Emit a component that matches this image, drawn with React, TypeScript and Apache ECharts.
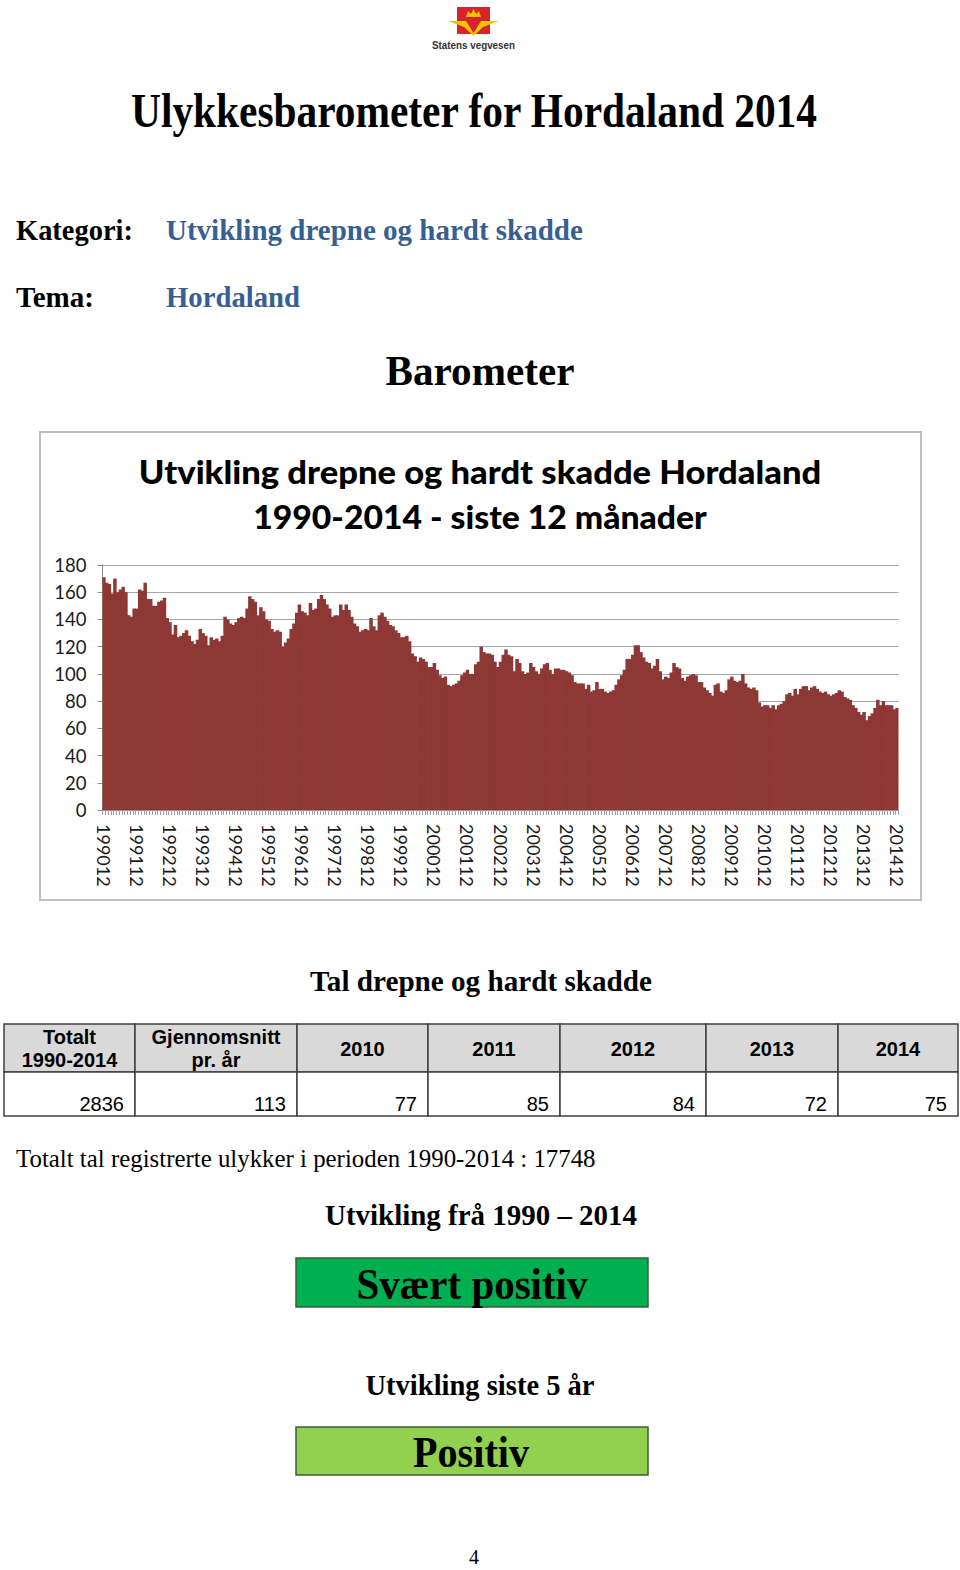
import React, { useEffect, useRef } from "react";
import * as echarts from "echarts";

// Rolling 12-month totals, killed and seriously injured, Hordaland (one value per month, 199012 .. 201412)
const rolling1990to1994 = [171,167,166,159,170,160,162,164,160,143,142,148,148,162,161,167,155,155,150,150,153,154,156,141,138,129,136,127,128,130,132,128,124,122,125,133,130,128,121,127,125,126,124,128,142,140,137,136];
const rolling1994to1998 = [138,141,142,141,148,157,155,153,143,149,146,140,139,133,131,132,131,120,123,126,133,137,145,151,146,145,143,152,147,148,155,158,155,151,148,142,143,143,151,147,151,147,142,137,135,131,132,133];
const rolling1998to2002 = [132,141,135,132,143,145,142,139,136,135,132,130,127,127,128,124,115,113,109,112,111,109,105,105,108,103,99,97,98,92,91,92,93,95,99,101,103,100,100,107,109,120,116,115,115,114,109,105];
const rolling2002to2006 = [109,114,118,114,113,102,111,108,102,100,101,108,105,102,100,104,107,108,103,100,104,104,103,103,102,101,99,94,93,93,93,89,92,87,88,94,89,89,87,86,87,88,92,96,99,103,111,111];
const rolling2006to2010 = [114,121,121,116,112,109,108,104,106,111,102,96,98,97,101,108,105,104,97,95,98,99,100,99,94,94,90,88,86,84,92,93,87,86,88,96,98,95,94,95,100,93,90,89,90,88,79,76];
const rolling2010to2014 = [77,77,75,77,74,77,78,80,85,86,84,89,85,89,91,91,88,90,91,89,87,86,87,85,84,85,86,88,87,83,82,81,77,75,72,70,72,66,69,71,75,81,77,80,77,77,77,74,75];

const firstYear = 1990;
const firstMonth = 12;

const yAxisMin = 0;
const yAxisMax = 180;
const yAxisStep = 20;

// Table "Tal drepne og hardt skadde"
const tableHeaderLine1 = ["Totalt", "Gjennomsnitt", "2010", "2011", "2012", "2013", "2014"];
const tableHeaderLine2 = ["1990-2014", "pr. år", "", "", "", "", ""];
const tableValues = ["2836", "113", "77", "85", "84", "72", "75"];

const totalAccidentsText = "Totalt tal registrerte ulykker i perioden 1990-2014 : 17748";
const verdictLongTerm = "Svært positiv";
const verdictShortTerm = "Positiv";

const values = [
  ...rolling1990to1994,
  ...rolling1994to1998,
  ...rolling1998to2002,
  ...rolling2002to2006,
  ...rolling2006to2010,
  ...rolling2010to2014,
];

const categories: string[] = values.map((_, i) => {
  const m0 = firstMonth - 1 + i;
  const y = firstYear + Math.floor(m0 / 12);
  const m = (m0 % 12) + 1;
  return `${y}${m < 10 ? "0" + m : m}`;
});

const SERIF = "Liberation Serif";
const SANS = "Liberation Sans";
const CHARTFONT = "Lato";
const BAR_COLOR = "#8e3836";

let measureCtx: CanvasRenderingContext2D | null = null;
function measure(text: string, size: number, family: string, weight: string) {
  if (!measureCtx) measureCtx = document.createElement("canvas").getContext("2d");
  if (!measureCtx) return 0;
  measureCtx.font = `${weight} ${size}px "${family}"`;
  return measureCtx.measureText(text).width;
}

function txt(
  text: string,
  x: number,
  y: number,
  size: number,
  family: string,
  weight: string,
  color: string,
  align: "left" | "center" | "right",
  targetWidth?: number
) {
  let sx = 1;
  if (targetWidth) {
    const w = measure(text, size, family, weight);
    if (w > 0) sx = targetWidth / w;
  }
  return {
    type: "text",
    x,
    y,
    scaleX: sx,
    z: 10,
    style: {
      text,
      fontSize: size,
      fontFamily: family,
      fontWeight: weight,
      fill: color,
      textAlign: align,
      align,
      textVerticalAlign: "middle",
      verticalAlign: "middle",
    },
  };
}

function buildGraphic() {
  const g: any[] = [];
  // Logo
  g.push({ type: "rect", shape: { x: 457, y: 7, width: 33, height: 27 }, style: { fill: "#d8232a" } });
  g.push({ type: "polygon", shape: { points: [[466, 17], [468, 11], [471, 14], [473.5, 9], [476, 14], [479, 11], [481, 17]] }, style: { fill: "#f5c400" } });
  g.push({ type: "polygon", shape: { points: [[448, 21], [466, 21], [473.5, 33], [481, 21], [499, 21], [483, 27], [473.5, 36], [464, 27]] }, style: { fill: "#f5c400" } });
  g.push({ type: "polygon", shape: { points: [[468, 22], [479, 22], [473.5, 30]] }, style: { fill: "#d8232a" } });
  g.push(txt("Statens vegvesen", 473.5, 45, 10, SANS, "bold", "#333", "center", 83));

  g.push(txt("Ulykkesbarometer for Hordaland 2014", 474, 111, 48, SERIF, "bold", "#000", "center", 688));
  g.push(txt("Kategori:", 16, 230, 30, SERIF, "bold", "#000", "left", 117));
  g.push(txt("Utvikling drepne og hardt skadde", 166, 230, 30, SERIF, "bold", "#376092", "left", 417));
  g.push(txt("Tema:", 16, 297, 30, SERIF, "bold", "#000", "left", 78));
  g.push(txt("Hordaland", 166, 297, 30, SERIF, "bold", "#376092", "left", 134));
  g.push(txt("Barometer", 480, 371, 42, SERIF, "bold", "#000", "center", 189));

  // chart frame
  g.push({ type: "rect", shape: { x: 40, y: 432, width: 881, height: 468 }, style: { fill: "none", stroke: "#c0c0c0", lineWidth: 2 } });
  g.push(txt("Utvikling drepne og hardt skadde Hordaland", 480, 471, 33, CHARTFONT, "900", "#000", "center", 683));
  g.push(txt("1990-2014 - siste 12 månader", 480, 516, 33, CHARTFONT, "900", "#000", "center", 454));

  g.push(txt("Tal drepne og hardt skadde", 481, 981, 30, SERIF, "bold", "#000", "center", 342));

  // table
  const cols = [4, 135, 297, 428, 560, 706, 838, 958];
  const rowTop = 1024, rowMid = 1072, rowBottom = 1116;
  for (let i = 0; i < cols.length - 1; i++) {
    g.push({ type: "rect", shape: { x: cols[i], y: rowTop, width: cols[i + 1] - cols[i], height: rowMid - rowTop }, style: { fill: "#d9d9d9", stroke: "#404040", lineWidth: 1.5 } });
    g.push({ type: "rect", shape: { x: cols[i], y: rowMid, width: cols[i + 1] - cols[i], height: rowBottom - rowMid }, style: { fill: "#ffffff", stroke: "#404040", lineWidth: 1.5 } });
    const cx = (cols[i] + cols[i + 1]) / 2;
    if (tableHeaderLine2[i]) {
      g.push(txt(tableHeaderLine1[i], cx, 1037, 20, SANS, "bold", "#000", "center"));
      g.push(txt(tableHeaderLine2[i], cx, 1060, 20, SANS, "bold", "#000", "center"));
    } else {
      g.push(txt(tableHeaderLine1[i], cx, 1049, 20, SANS, "bold", "#000", "center"));
    }
    g.push(txt(tableValues[i], cols[i + 1] - 11, 1104, 20, SANS, "normal", "#000", "right"));
  }

  g.push(txt(totalAccidentsText, 16, 1158, 25, SERIF, "normal", "#000", "left", 580));
  g.push(txt("Utvikling frå 1990 – 2014", 481, 1215, 30, SERIF, "bold", "#000", "center", 312));
  g.push({ type: "rect", shape: { x: 296, y: 1258, width: 352, height: 49 }, style: { fill: "#00b050", stroke: "#3d5c3d", lineWidth: 1.5 } });
  g.push(txt(verdictLongTerm, 472, 1284, 44, SERIF, "bold", "#000", "center", 231));
  g.push(txt("Utvikling siste 5 år", 480, 1385, 30, SERIF, "bold", "#000", "center", 229));
  g.push({ type: "rect", shape: { x: 296, y: 1427, width: 352, height: 48 }, style: { fill: "#92d050", stroke: "#3d5c3d", lineWidth: 1.5 } });
  g.push(txt(verdictShortTerm, 471, 1452, 44, SERIF, "bold", "#000", "center", 116));
  g.push(txt("4", 474, 1557, 20, SERIF, "normal", "#000", "center"));
  return g;
}

export default function App() {
  const ref = useRef<HTMLDivElement>(null);
  useEffect(() => {
    if (!ref.current) return;
    const chart = echarts.init(ref.current, null, { renderer: "svg", width: 960, height: 1570 });
    chart.setOption({
      animation: false,
      backgroundColor: "#ffffff",
      grid: { left: 102.5, top: 565, width: 796, height: 245, containLabel: false },
      xAxis: {
        type: "category",
        data: categories,
        boundaryGap: true,
        axisLine: { show: true, lineStyle: { color: "#8c8c8c", width: 1 } },
        axisTick: { show: true, interval: 0, length: 5, lineStyle: { color: "#a0a0a0", width: 1 } },
        axisLabel: { interval: 11, rotate: -90, margin: 14, fontFamily: CHARTFONT, fontSize: 18, color: "#1a1a1a" },
        splitLine: { show: false },
      },
      yAxis: {
        type: "value",
        min: yAxisMin,
        max: yAxisMax,
        interval: yAxisStep,
        axisLine: { show: true, lineStyle: { color: "#8c8c8c", width: 1 } },
        axisTick: { show: true, length: 5, lineStyle: { color: "#8c8c8c" } },
        axisLabel: { margin: 16, fontFamily: CHARTFONT, fontSize: 18.5, color: "#1a1a1a" },
        splitLine: { show: true, lineStyle: { color: "#a6a6a6", width: 1 } },
      },
      series: [
        {
          type: "bar",
          data: values,
          barWidth: 3.5,
          barGap: "0%",
          itemStyle: { color: BAR_COLOR, borderWidth: 0 },
          silent: true,
        },
      ],
      graphic: buildGraphic(),
    });
    return () => chart.dispose();
  }, []);
  return (
    <div
      ref={ref}
      style={{ position: "absolute", left: 0, top: 0, width: 960, height: 1570, background: "#fff" }}
    />
  );
}
